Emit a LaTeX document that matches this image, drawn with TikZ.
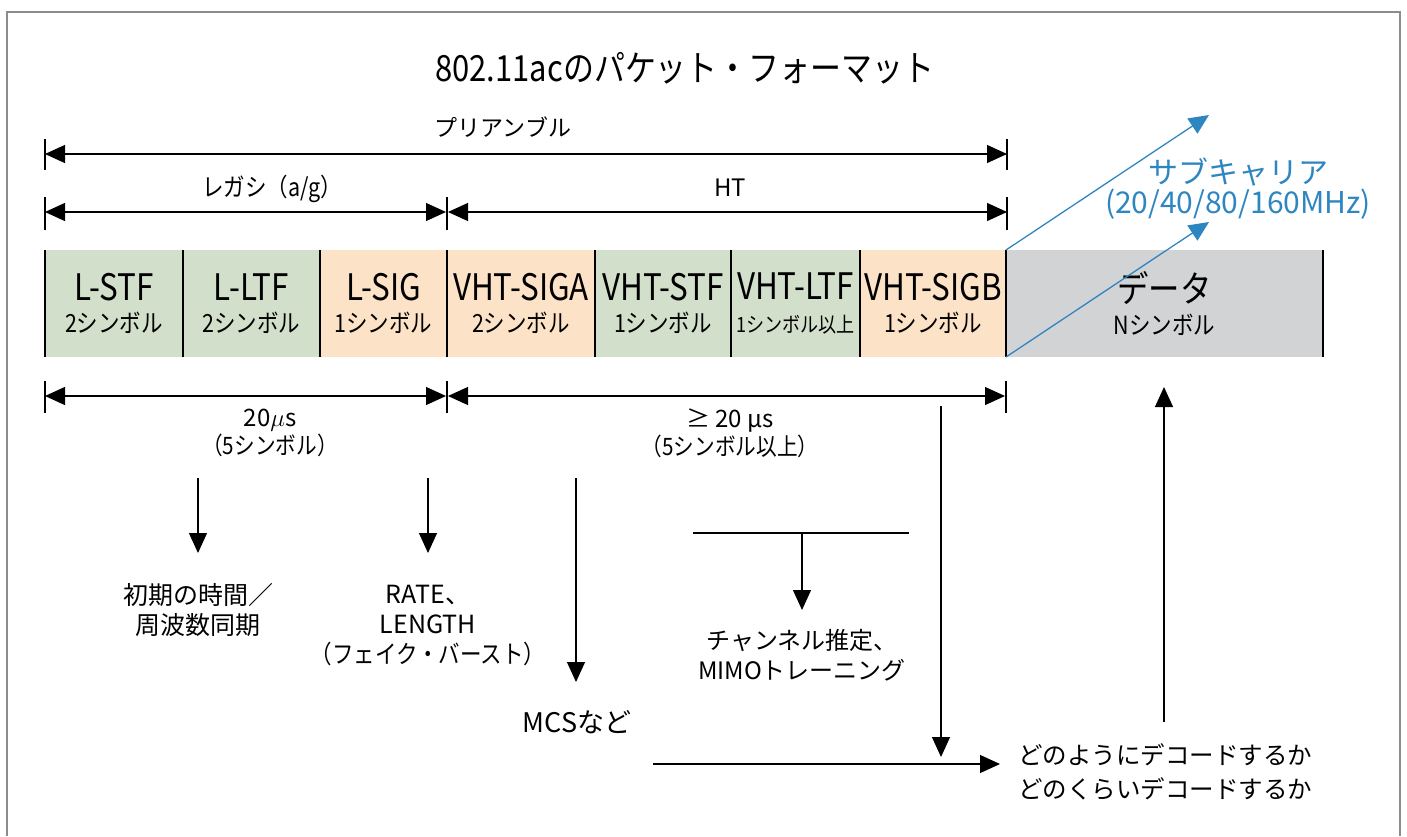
\documentclass[tikz,border=0pt]{standalone}
\usepackage{fontspec}
\setmainfont{Noto Sans CJK JP}
\newfontfamily\nf{Noto Sans CJK JP}[FakeStretch=0.86]
\usetikzlibrary{arrows.meta}
\definecolor{fgreen}{RGB}{210,223,203}
\definecolor{forange}{RGB}{252,226,198}
\definecolor{fgray}{RGB}{209,211,212}
\definecolor{fblue}{RGB}{46,134,193}
\definecolor{fframe}{RGB}{140,140,140}
\newcommand{\fs}[1]{\fontsize{#1}{#1}\selectfont}
\begin{document}
\begin{tikzpicture}[x=1pt,y=-1pt,
  onearrow/.style={line width=1.2pt,-{Triangle[length=20pt,width=18pt]}},
  twoarrow/.style={line width=1.2pt,{Triangle[length=20pt,width=18pt]}-{Triangle[length=20pt,width=18pt]}},
  tick/.style={line width=1.4pt},
  field/.style={anchor=north west,minimum height=107pt,inner sep=0pt,outer sep=0pt,align=center,font=\nf\fs{36.5}},
  lbl/.style={inner sep=0pt,align=center,font=\fs{24}},
  bluearrow/.style={fblue,line width=1.3pt,-{Triangle[length=20pt,width=18pt]}},
  ]
\useasboundingbox (0,0) rectangle (1407,836);
% frame
\draw[fframe,line width=1.3pt] (7,836) -- (7,12) -- (1400,12) -- (1400,836);
% title
\node[lbl,font=\nf\fs{36}] (title) at (685,68) {802.11acのパケット・フォーマット};
% preamble dimension
\coordinate (pa) at (45,154); \coordinate (pb) at (1007,154);
\draw[tick] (45,139) -- (45,170) (1007,139) -- (1007,170);
\draw[twoarrow] (pa) -- (pb);
\node[lbl,font=\fs{23}] (pre) at (503,127) {プリアンブル};
% legacy / HT
\coordinate (la) at (45,212); \coordinate (lb) at (446,212);
\coordinate (ha) at (448,212); \coordinate (hb) at (1007,212);
\draw[tick] (45,197) -- (45,230) (447,197) -- (447,230) (1007,197) -- (1007,230);
\draw[twoarrow] (la) -- (lb);
\draw[twoarrow] (ha) -- (hb);
\node[lbl,font=\nf\fs{25}] (leg) at (272,189) {レガシ（a/g）};
\node[lbl] (ht) at (730,188) {HT};
% fields
\node[field,fill=fgreen,minimum width=138pt] (lstf) at (45,250) {L-STF\\[-4pt]{\fs{25}2シンボル}};
\node[field,fill=fgreen,minimum width=137pt] (lltf) at (183,250) {L-LTF\\[-4pt]{\fs{25}2シンボル}};
\node[field,fill=forange,minimum width=127pt] (lsig) at (320,250) {L-SIG\\[-4pt]{\fs{25}1シンボル}};
\node[field,fill=forange,minimum width=148pt] (siga) at (447,250) {VHT-SIGA\\[-4pt]{\fs{25}2シンボル}};
\node[field,fill=fgreen,minimum width=136pt] (vstf) at (595,250) {VHT-STF\\[-4pt]{\fs{25}1シンボル}};
\node[field,fill=fgreen,minimum width=129pt] (vltf) at (731,250) {VHT-LTF\\[-4pt]{\fs{21}1シンボル以上}};
\node[field,fill=forange,minimum width=146pt] (sigb) at (860,250) {VHT-SIGB\\[-4pt]{\fs{25}1シンボル}};
\node[field,fill=fgray,minimum width=317pt] (data) at (1006,250) {データ\\[-4pt]{\fs{25}Nシンボル}};
\foreach \n in {lstf,lltf,lsig,siga,vstf,vltf,sigb,data}
  \draw[line width=1.2pt] (\n.north west) -- (\n.south west);
\draw[line width=1.2pt] (data.north east) -- (data.south east);
% subcarrier arrows
\coordinate (s1) at (1209,115); \coordinate (s2) at (1209,222);
\draw[bluearrow] (data.north west) -- (s1);
\draw[bluearrow] (data.south west) -- (s2);
\node[lbl,fblue,font=\fs{30}] (sub) at (1238,189) {サブキャリア\\[0pt](20/40/80/160MHz)};
% time dimension
\coordinate (ta) at (45,396); \coordinate (tb) at (446,396);
\coordinate (tc) at (448,396); \coordinate (td) at (1005,396);
\draw[tick] (45,381) -- (45,413) (447,381) -- (447,413) (1006,381) -- (1006,413);
\draw[twoarrow] (ta) -- (tb);
\draw[twoarrow] (tc) -- (td);
\node[lbl] (t1) at (270,433) {20$\mu$s\\[2pt]{\nf（5シンボル）}};
\node[lbl] (t2) at (730,433) {≥ 20 μs\\[2pt]{\nf（5シンボル以上）}};
% down arrows
\coordinate (d1a) at (198,478); \coordinate (d1b) at (198,553);
\coordinate (d2a) at (428,478); \coordinate (d2b) at (428,553);
\coordinate (d3a) at (576,478); \coordinate (d3b) at (576,682);
\draw[onearrow] (d1a) -- (d1b);
\draw[onearrow] (d2a) -- (d2b);
\draw[onearrow] (d3a) -- (d3b);
\node[lbl,font=\fs{25}] (sync) at (198,610) {初期の時間／\\[5pt]周波数同期};
\node[lbl,font=\fs{25}] (rate) at (428,626) {RATE、\\[5pt]LENGTH\\[5pt]{\nf（フェイク・バースト）}};
\node[lbl,font=\fs{27}] (mcs) at (577,722) {MCSなど};
% channel estimation
\coordinate (ca) at (693,533); \coordinate (cb) at (909,533);
\coordinate (cm) at (802,533); \coordinate (ce) at (802,610);
\draw[line width=1.2pt] (ca) -- (cb);
\draw[onearrow] (cm) -- (ce);
\node[lbl] (chan) at (802,655) {チャンネル推定、\\[6pt]MIMOトレーニング};
% decode
\coordinate (ga) at (941,406); \coordinate (gb) at (941,757);
\draw[onearrow] (ga) -- (gb);
\coordinate (ma) at (653,764);
\node[lbl,anchor=west,align=left,font=\fs{24.5}] (dec) at (1018,772) {どのようにデコードするか\\[10pt]どのくらいデコードするか};
\draw[onearrow] (ma) -- ([xshift=-18pt]dec.west |- ma);
\coordinate (ua) at (1164,722);
\draw[onearrow] (ua) -- (1164,387);
\end{tikzpicture}
\end{document}
